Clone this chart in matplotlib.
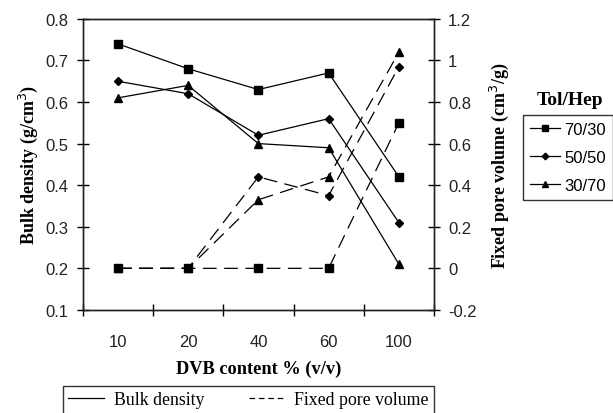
import numpy as np
import matplotlib.pyplot as plt
from matplotlib.lines import Line2D

dvb = ["10", "20", "40", "60", "100"]
ratios = ["70/30", "50/50", "30/70"]
markers = ["s", "D", "^"]
msizes = [6, 4.5, 6]

bulk_70_30 = [0.74, 0.68, 0.63, 0.67, 0.42]
bulk_50_50 = [0.65, 0.62, 0.52, 0.56, 0.31]
bulk_30_70 = [0.61, 0.64, 0.50, 0.49, 0.21]

pore_70_30 = [0.0, 0.0, 0.0, 0.0, 0.70]
pore_50_50 = [0.0, 0.0, 0.44, 0.35, 0.97]
pore_30_70 = [0.0, 0.0, 0.33, 0.44, 1.04]

bulk = [bulk_70_30, bulk_50_50, bulk_30_70]
pore = [pore_70_30, pore_50_50, pore_30_70]

serif = "Liberation Serif"
sans = "Liberation Sans"

fig = plt.figure(figsize=(6.13, 4.14), dpi=100)
ax = fig.add_axes([0.135, 0.249, 0.573, 0.703])
ax2 = ax.twinx()

x = np.arange(len(dvb))
for i in range(3):
    ax.plot(x, bulk[i], color="black", lw=0.9, marker=markers[i],
            ms=msizes[i], mfc="black", mec="black")
    ax2.plot(x, pore[i], color="black", lw=0.9, marker=markers[i],
             ms=msizes[i], mfc="black", mec="black", dashes=(11, 6))

ax.set_xlim(-0.5, 4.5)
ax.set_ylim(0.1, 0.8)
ax2.set_ylim(-0.2, 1.2)
ax.set_xticks(np.arange(-0.5, 5, 1))
ax.set_xticklabels([])
ax.set_xticks(x, minor=True)
ax.set_xticklabels(dvb, minor=True, fontfamily=sans, fontsize=12, color="#222222")
ax.tick_params(axis="x", which="minor", length=0, pad=17)
ax.tick_params(axis="x", which="major", length=8, direction="inout", width=1)

yt = np.arange(0.1, 0.81, 0.1)
ax.set_yticks(yt)
ax.set_yticklabels([f"{v:.1f}" for v in yt], fontfamily=sans, fontsize=12,
                   color="#222222")
ax.tick_params(axis="y", length=8, direction="inout", width=1, pad=6)

yt2 = [-0.2, 0, 0.2, 0.4, 0.6, 0.8, 1, 1.2]
ax2.set_yticks(yt2)
ax2.set_yticklabels([f"{v:g}" for v in yt2], fontfamily=sans, fontsize=12,
                    color="#222222")
ax2.tick_params(axis="y", length=8, direction="inout", width=1, pad=6)

for a in (ax, ax2):
    for s in a.spines.values():
        s.set_linewidth(1.0)
        s.set_color("#222222")

ax.set_xlabel("DVB content % (v/v)", fontfamily=serif, fontweight="bold",
              fontsize=13.2, labelpad=8)
ax.set_ylabel("Bulk density (g/cm$^3$)", fontfamily=serif, fontweight="bold",
              fontsize=13, labelpad=4)
ax2.set_ylabel("Fixed pore volume (cm$^3$/g)", fontfamily=serif,
               fontweight="bold", fontsize=13, labelpad=8)

# legend for ratios, title sits above the box
handles = [Line2D([], [], color="black", lw=0.9, marker=m, ms=s * 0.75,
                  mfc="black") for m, s in zip(markers, msizes)]
leg = fig.legend(handles, ratios, loc="upper left", bbox_to_anchor=(0.853, 0.72),
                 borderaxespad=0, fancybox=False, edgecolor="black",
                 prop={"family": sans, "size": 12}, handlelength=1.8,
                 handletextpad=0.3, borderpad=0.4, labelspacing=0.8)
leg.get_frame().set_linewidth(1.0)
fig.text(0.93, 0.758, "Tol/Hep", ha="center", va="center", fontfamily=serif,
         fontweight="bold", fontsize=14)

h2 = [Line2D([], [], color="black", lw=0.9),
      Line2D([], [], color="black", lw=0.9, dashes=(4.5, 3))]
leg2 = fig.legend(h2, ["Bulk density", "Fixed pore volume"], loc="upper left",
                  bbox_to_anchor=(0.103, -0.2, 0.605, 0.265), mode="expand",
                  borderaxespad=0, ncol=2, fancybox=False, edgecolor="black",
                  prop={"family": serif, "size": 12.8}, handlelength=2.0,
                  handletextpad=0.55, columnspacing=2.0, borderpad=0.3)
leg2.get_frame().set_linewidth(1.0)

fig.savefig("out.png", dpi=100)
